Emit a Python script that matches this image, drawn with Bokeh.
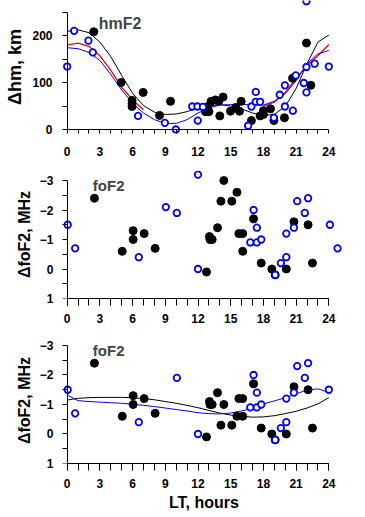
from bokeh.plotting import figure
from bokeh.layouts import column
from bokeh.models import Range1d, FixedTicker, Label, LinearAxis
from bokeh.embed import file_html
from bokeh.resources import INLINE

FONT = "Liberation Sans"
NAN = float("nan")

# ---------------- data ----------------
# top panel: delta hmF2 (km) vs LT (hours)
hm_black_lt = [2.44, 4.95, 5.95, 5.95, 5.95, 6.97, 8.47, 9.48, 12.69, 12.9, 13.0, 13.2, 13.6, 13.9,
               14.3, 14.0, 14.98, 15.47, 15.8, 15.96, 16.9, 17.7, 18.0, 18.0, 18.65, 18.96, 19.93,
               20.67, 21.95, 22.35]
hm_black_dh = [208, 100, 62, 55, 49, 79, 30, 60, 38, 49, 38, 60, 63, 60,
               69, 29, 39, 47, 39, 60, 19, 29, 40, 32, 44, 19, 25,
               109, 184, 94]
hm_blue_lt = [0.0, 0.64, 1.95, 2.35, 6.5, 8.96, 9.97, 11.47, 11.95, 12.45, 11.98, 16.6, 16.9, 17.3,
              17.3, 17.7, 18.96, 19.5, 19.97, 19.97, 20.7, 20.97, 21.7, 21.95, 21.95, 21.95, 22.7, 24.0]
hm_blue_dh = [134, 210, 189, 164, 29, 14, 0, 49, 49, 48, 19, 8, 49, 80,
              59, 59, 25, 74, 94, 49, 40, 115, 99, 79, 133, 273, 140, 134]

fit_lt = list(range(0, 25))
hm_fit_black = [209, 212, 206, 186, 155, 115, 77, 51, 37, 32, 33, 38, 46, 50, 53, 50, 44, 35, 30, 32,
                49, 87, 140, 186, 201]
hm_fit_blue = [174, 172, 164, 147, 117, 84, 56, 35, 21, 13, 13, 21, 35, 46, 52, 53, 53, 53, 52, 60,
               76, 104, 140, 161, 168]
hm_fit_red = [180, 184, 177, 157, 126, 90, 63, 42, NAN, NAN, NAN, NAN, NAN, NAN, NAN, NAN, NAN, NAN,
              49, 58, 79, 108, 136, 157, 181]

# middle panel: delta foF2 (MHz)
fo_black_lt = [2.5, 5.05, 6.05, 6.05, 7.06, 8.07, 12.78, 13.05, 13.1, 13.3, 13.79, 14.1, 14.37, 15.1,
               15.57, 15.75, 16.1, 16.1, 17.1, 17.8, 18.77, 19.08, 20.1, 20.8, 22.1, 22.5]
fo_black_df = [-2.4, -0.6, -1.3, -1.0, -1.2, -0.7, 0.1, -1.1, -1.0, -1.0, -1.4, -2.3, -3.0, -2.3,
               -2.6, -1.2, -1.2, -0.6, -1.7, -0.2, 0.0, 0.2, 0.0, -1.6, -1.5, -0.2]
fo_blue_lt = [0.05, 0.73, 6.57, 9.05, 10.06, 12.0, 12.0, 16.8, 17.1, 17.4, 17.4, 17.8, 19.08, 19.6,
              20.1, 20.1, 20.8, 21.1, 21.8, 22.1, 24.1, 24.8]
fo_blue_df = [-1.5, -0.7, -0.4, -2.1, -1.9, -3.2, 0.0, -0.9, -2.0, -1.4, -0.9, -1.0, 0.2, -0.2,
              -0.4, -1.2, -1.4, -2.3, -1.9, -2.4, -1.5, -0.7]

# bottom panel: delta foF2 (MHz) with fits
fo2_black_lt = [2.5, 5.05, 6.05, 6.05, 7.06, 8.07, 12.78, 13.05, 13.1, 13.3, 13.79, 14.1, 14.37, 15.1,
                15.57, 15.75, 16.1, 16.1, 17.1, 17.8, 18.77, 19.08, 20.1, 20.8, 22.1, 22.5]
fo2_black_df = [-2.4, -0.6, -1.3, -1.0, -1.2, -0.7, 0.1, -1.1, -1.0, -1.0, -1.4, -0.3, -1.0, -0.3,
                -0.6, -1.2, -1.2, -0.6, -1.7, -0.2, 0.0, 0.2, 0.0, -1.6, -1.5, -0.2]
fo2_blue_lt = [0.05, 0.73, 6.57, 10.06, 12.0, 16.8, 17.1, 17.4, 17.4, 17.8, 19.08, 19.6,
               20.1, 20.1, 20.8, 21.1, 21.8, 22.1, 24.0]
fo2_blue_df = [-1.5, -0.7, -0.4, -1.9, 0.0, -0.9, -2.0, -1.4, -0.9, -1.0, 0.2, -0.2,
               -0.4, -1.2, -1.4, -2.3, -1.9, -2.4, -1.5]
fo_fit_black = [-1.15, -1.21, -1.23, -1.24, -1.24, -1.24, -1.23, -1.2, -1.16, -1.1, -1.04, -0.97,
                -0.89, -0.8, -0.71, -0.64, -0.6, -0.57, -0.58, -0.62, -0.69, -0.77, -0.88, -1.02, -1.23]
fo_fit_blue = [-1.32, -1.13, -1.1, -1.08, -1.06, -1.04, -1.01, -0.97, -0.93, -0.88, -0.83, -0.78,
               -0.72, -0.69, -0.68, -0.71, -0.78, -0.88, -1.02, -1.12, -1.23, -1.36, -1.49, -1.53, -1.41]

x_major = [0, 3, 6, 9, 12, 15, 18, 21, 24]
x_minor = list(range(0, 25))
hm_major = [0, 100, 200]
hm_minor = [0, 50, 100, 150, 200, 250]
fo_major = [-3, -2, -1, 0, 1]
fo_minor = [-3, -2.5, -2, -1.5, -1, -0.5, 0, 0.5, 1]

BLUE = "#0000ff"
X_START, X_END = -0.43, 25.53
WIDTH = 365


def text_style(ax):
    ax.major_label_text_font = FONT
    ax.major_label_text_font_style = "bold"
    ax.major_label_text_font_size = "12px"
    ax.major_label_text_color = "black"
    ax.axis_label_text_font = FONT
    ax.axis_label_text_font_style = "bold"
    ax.axis_label_text_color = "black"


def make_rule(ax, tick_positions, bounds, loc, tick_len):
    # axis line and equal-length ticks drawn at a fixed data location, no labels
    ax.fixed_location = loc
    ax.bounds = bounds
    ax.ticker = FixedTicker(ticks=[], minor_ticks=tick_positions)
    ax.axis_line_color = "black"
    ax.minor_tick_line_color = "black"
    ax.minor_tick_out = tick_len
    ax.minor_tick_in = 0
    ax.major_tick_out = 0
    ax.major_tick_in = 0
    ax.major_label_standoff = 0


def label_axis(ticks, standoff):
    ax = LinearAxis(ticker=FixedTicker(ticks=ticks, minor_ticks=[]),
                    axis_line_color=None, major_tick_line_color=None, minor_tick_line_color=None,
                    major_tick_out=0, major_tick_in=0, minor_tick_out=0, minor_tick_in=0,
                    major_label_standoff=standoff)
    text_style(ax)
    return ax


def base_fig(height, y_start, y_end, top, bottom):
    p = figure(width=WIDTH, height=height, x_range=Range1d(X_START, X_END),
               y_range=Range1d(y_start, y_end),
               output_backend="svg", toolbar_location=None,
               min_border_left=62, min_border_right=20, min_border_top=top, min_border_bottom=bottom)
    p.grid.visible = False
    p.outline_line_color = None
    return p


# ---------------- top panel ----------------
p1 = base_fig(170, -8.5, 274.5, 0, 37)
make_rule(p1.xaxis[0], x_minor, (0, 24), 0, 7)
make_rule(p1.yaxis[0], hm_minor, (0, 250), 0, 7)
xl1 = label_axis(x_major, 13)
xl1.bounds = (0, 24)
p1.add_layout(xl1, "below")
yl1 = label_axis(hm_major, 10)
yl1.axis_label = "\u0394hm, km"
yl1.axis_label_text_font_size = "18px"
yl1.axis_label_standoff = 4
p1.add_layout(yl1, "left")

p1.line(fit_lt, hm_fit_red, line_color="red", line_width=1.3)
p1.line(fit_lt, hm_fit_black, line_color="black", line_width=1)
p1.line(fit_lt, hm_fit_blue, line_color=BLUE, line_width=1)
p1.scatter(hm_black_lt, hm_black_dh, size=8, fill_color="black", line_color="black")
p1.scatter(hm_blue_lt, hm_blue_dh, size=6.5, fill_color="white", line_color=BLUE, line_width=1.8)
p1.add_layout(Label(x=2.9, y=226, text="hmF2", text_font=FONT, text_font_style="bold",
                    text_font_size="16px", text_baseline="alphabetic"))


def fo_fig(height, y_end, top, bottom, x_label=None):
    p = base_fig(height, 1.0, y_end, top, bottom)
    xa = p.xaxis[0]
    text_style(xa)
    xa.ticker = FixedTicker(ticks=x_major, minor_ticks=x_minor)
    xa.bounds = (0, 24)
    xa.axis_line_color = "black"
    xa.major_tick_out = 7
    xa.minor_tick_out = 7
    xa.major_tick_in = 0
    xa.minor_tick_in = 0
    xa.major_label_standoff = 8
    make_rule(p.yaxis[0], fo_minor, (-3, 1), 0, 7)
    yl = label_axis(fo_major, 9)
    yl.axis_label = "\u0394foF2, MHz"
    yl.axis_label_text_font_size = "16px"
    yl.axis_label_standoff = 4
    p.add_layout(yl, "left")
    if x_label:
        xa.axis_label = x_label
        xa.axis_label_text_font_size = "16px"
        xa.axis_label_standoff = 3
    return p


# ---------------- middle panel ----------------
p2 = fo_fig(165, -3.34, 0, 37)
p2.scatter(fo_black_lt, fo_black_df, size=8, fill_color="black", line_color="black")
p2.scatter(fo_blue_lt, fo_blue_df, size=6.5, fill_color="white", line_color=BLUE, line_width=1.8)
p2.add_layout(Label(x=2.35, y=-2.83, text="foF2", text_font=FONT, text_font_style="bold",
                    text_font_size="15px", text_baseline="alphabetic"))

# ---------------- bottom panel ----------------
p3 = fo_fig(182, -3.27, 2, 54, "LT, hours")
p3.line(fit_lt, fo_fit_black, line_color="black", line_width=1)
p3.line(fit_lt, fo_fit_blue, line_color=BLUE, line_width=1)
p3.scatter(fo2_black_lt, fo2_black_df, size=8, fill_color="black", line_color="black")
p3.scatter(fo2_blue_lt, fo2_blue_df, size=6.5, fill_color="white", line_color=BLUE, line_width=1.8)
p3.add_layout(Label(x=2.35, y=-2.83, text="foF2", text_font=FONT, text_font_style="bold",
                    text_font_size="15px", text_baseline="alphabetic"))

layout = column(p1, p2, p3, spacing=0)
open("out.html", "w").write(file_html(layout, INLINE))
